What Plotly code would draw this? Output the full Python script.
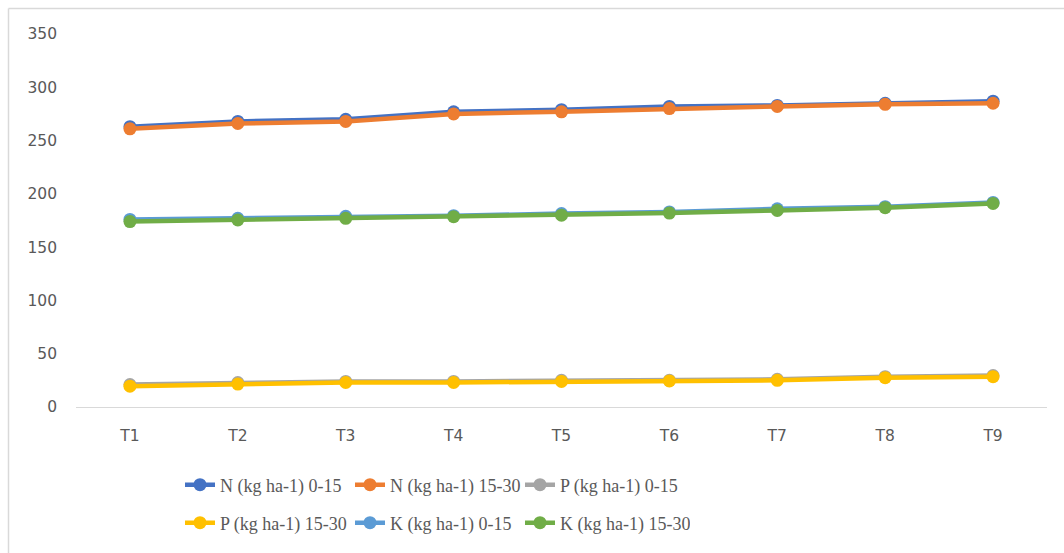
import plotly.graph_objects as go

# Treatments on the category axis
treatments = ["T1", "T2", "T3", "T4", "T5", "T6", "T7", "T8", "T9"]

# Soil nutrient status (kg ha-1) at two depths
n_0_15 = [263, 268, 270, 277, 279, 282, 283, 285, 287]
n_15_30 = [261, 266, 268, 275, 277, 280, 282, 284, 285]
p_0_15 = [21, 23, 24, 24, 25, 25, 26, 28.5, 29.5]
p_15_30 = [19.5, 21.5, 23, 23, 24, 24.5, 25, 27.5, 28.5]
k_0_15 = [176, 177, 179, 179.5, 181.5, 183, 186, 188, 192]
k_15_30 = [174, 175.5, 177, 178.5, 180, 182, 184.5, 187, 191]

series = [
    ("N (kg ha-1) 0-15", n_0_15, "#4472C4", "legend"),
    ("N (kg ha-1) 15-30", n_15_30, "#ED7D31", "legend"),
    ("P (kg ha-1) 0-15", p_0_15, "#A5A5A5", "legend"),
    ("P (kg ha-1) 15-30", p_15_30, "#FFC000", "legend2"),
    ("K (kg ha-1) 0-15", k_0_15, "#5B9BD5", "legend2"),
    ("K (kg ha-1) 15-30", k_15_30, "#70AD47", "legend2"),
]

fig = go.Figure()
for name, vals, color, leg in series:
    fig.add_trace(go.Scatter(
        x=treatments, y=vals, name=name, mode="lines+markers",
        line=dict(color=color, width=4.5),
        marker=dict(color=color, size=13),
        legend=leg,
    ))

W, H = 1064, 553
L, R, T, B = 76, 17, 34, 146

tick_font = dict(family="DejaVu Sans", size=15.5, color="#595959")
legend_font = dict(family="Liberation Serif", size=18, color="#595959")

legend_common = dict(
    orientation="h", xref="container", yref="container",
    xanchor="left", yanchor="middle", font=legend_font,
    entrywidth=125, entrywidthmode="pixels",
    bgcolor="rgba(0,0,0,0)", itemwidth=30, tracegroupgap=0,
)

fig.update_layout(
    width=W, height=H,
    margin=dict(l=L, r=R, t=T, b=B),
    paper_bgcolor="white", plot_bgcolor="white",
    showlegend=True,
    legend=dict(x=180 / W, y=1 - 485 / H, **legend_common),
    legend2=dict(x=180 / W, y=1 - 523 / H, **legend_common),
    xaxis=dict(
        type="category", showgrid=False, zeroline=False,
        showline=True, linecolor="#D9D9D9", linewidth=1,
        ticks="", tickfont=tick_font, ticklabelstandoff=14,
        range=[-0.5, len(treatments) - 0.5],
    ),
    yaxis=dict(
        range=[0, 350], dtick=50, showgrid=False, zeroline=False,
        showline=False, ticks="", tickfont=tick_font,
        ticklabelstandoff=18,
    ),
)

# Chart-area frame (top and left edges)
pw = W - L - R
ph = H - T - B
def px_x(v):
    return (v - L) / pw
def px_y(v):
    return (H - B - v) / ph

frame = dict(type="line", xref="paper", yref="paper",
             line=dict(color="#D9D9D9", width=1.5), layer="below")
fig.add_shape(x0=px_x(8.5), x1=px_x(W), y0=px_y(8.5), y1=px_y(8.5), **frame)
fig.add_shape(x0=px_x(8.5), x1=px_x(8.5), y0=px_y(8.5), y1=px_y(H), **frame)

fig.write_html("out.html")
